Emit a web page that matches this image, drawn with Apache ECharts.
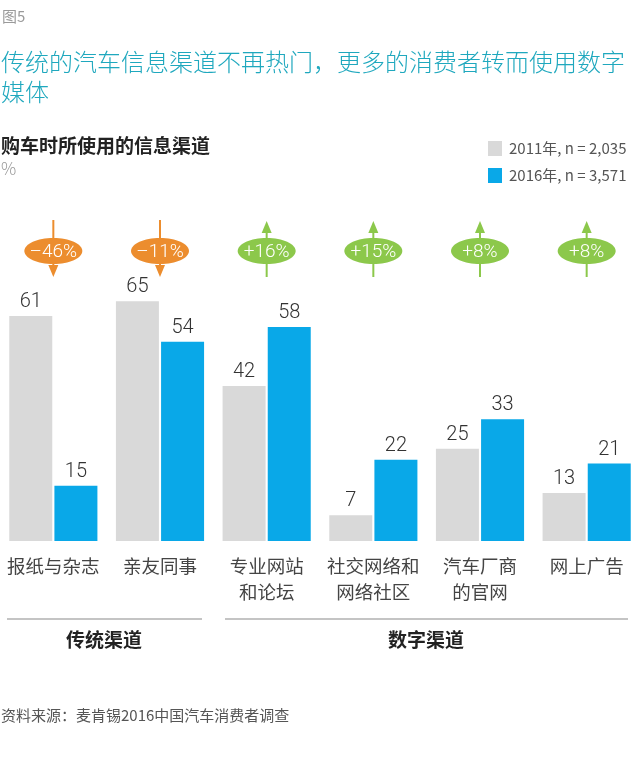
<!DOCTYPE html>
<html><head><meta charset="utf-8">
<script src="https://cdn.jsdelivr.net/npm/echarts@6/dist/echarts.min.js"></script>
<style>html,body{margin:0;padding:0;background:#fff}#c{width:640px;height:763px}</style>
</head><body><div id="c"></div>
<script>
var categories = ['报纸与杂志', '亲友同事', '专业网站\n和论坛', '社交网络和\n网络社区', '汽车厂商\n的官网', '网上广告'];
var seriesNames = ['2011年, n = 2,035', '2016年, n = 3,571'];
var values2011 = [61, 65, 42, 7, 25, 13];
var values2016 = [15, 54, 58, 22, 33, 21];
var changes = [-46, -11, 16, 15, 8, 8];
var groupNames = ['传统渠道', '数字渠道'];

var FONT = '"Noto Sans CJK SC", "Noto Sans", sans-serif';
var NUMFONT = 'Roboto, "Noto Sans CJK SC", sans-serif';
var GRAY = '#D9D9D9', BLUE = '#09A8E8', ORANGE = '#EC8D2E', GREEN = '#8CC84B';

var chart = echarts.init(document.getElementById('c'));

function badge(params, api) {
  var idx = api.value(0);
  var v = api.value(1);
  var x = api.coord([idx, 0])[0];
  var cy = 251;
  var color = v < 0 ? ORANGE : GREEN;
  var txt = (v < 0 ? '–' + Math.abs(v) : '+' + v) + '%';
  var children = [];
  if (v < 0) {
    children.push({type: 'line', shape: {x1: x, y1: 220, x2: x, y2: cy}, style: {stroke: color, lineWidth: 2}});
    children.push({type: 'line', shape: {x1: x, y1: cy, x2: x, y2: 268}, style: {stroke: color, lineWidth: 2}});
    children.push({type: 'polygon', shape: {points: [[x - 5, 265], [x + 5, 265], [x, 277]]}, style: {fill: color}});
  } else {
    children.push({type: 'polygon', shape: {points: [[x - 5, 233], [x + 5, 233], [x, 221]]}, style: {fill: color}});
    children.push({type: 'line', shape: {x1: x, y1: 231, x2: x, y2: 277}, style: {stroke: color, lineWidth: 2}});
  }
  children.push({type: 'ellipse', shape: {cx: x, cy: cy, rx: 29, ry: 13}, style: {fill: color}});
  children.push({type: 'text', style: {text: txt, x: x, y: cy + 1, align: 'center', verticalAlign: 'middle',
    fill: '#fff', font: '300 19px ' + NUMFONT}});
  return {type: 'group', children: children};
}

var option = {
  animation: false,
  backgroundColor: '#fff',
  grid: {left: 0, right: 0, top: 209, bottom: 222},
  legend: {
    orient: 'vertical', left: 483, top: 136, itemGap: 12, itemWidth: 14, itemHeight: 15,
    icon: 'rect', textStyle: {fontSize: 15, color: '#555', fontFamily: FONT, padding: [0, 0, 0, 2]},
    data: seriesNames
  },
  xAxis: {
    type: 'category', data: categories,
    axisLine: {show: false}, axisTick: {show: false},
    axisLabel: {margin: 12, fontSize: 18.5, lineHeight: 26, color: '#444', fontFamily: FONT, interval: 0}
  },
  yAxis: {type: 'value', min: 0, max: 90, show: false, splitLine: {show: false}},
  series: [
    {name: seriesNames[0], type: 'bar', data: values2011, barWidth: 43, barGap: '5%',
     itemStyle: {color: GRAY},
     label: {show: true, position: 'top', distance: 4, fontSize: 20, color: '#333', fontFamily: NUMFONT, fontWeight: 300}},
    {name: seriesNames[1], type: 'bar', data: values2016, barWidth: 43,
     itemStyle: {color: BLUE},
     label: {show: true, position: 'top', distance: 4, fontSize: 20, color: '#333', fontFamily: NUMFONT, fontWeight: 300}},
    {type: 'custom', data: changes.map(function (c, i) { return [i, c]; }), renderItem: badge,
     encode: {x: 0, y: 1}, silent: true, clip: false, z: 5}
  ],
  graphic: [
    {type: 'text', left: 2, top: 9, style: {text: '图5', font: '15px ' + FONT, fill: '#9a9a9a'}},
    {type: 'text', left: 1, top: 47, style: {text: '传统的汽车信息渠道不再热门，更多的消费者转而使用数字\n媒体',
      font: '300 24px ' + FONT, fill: '#1FA8BE', lineHeight: 30}},
    {type: 'text', left: 1, top: 136, style: {text: '购车时所使用的信息渠道', font: 'bold 19px ' + FONT, fill: '#222'}},
    {type: 'text', left: 1, top: 160, style: {text: '%', font: '300 17px ' + FONT, fill: '#9a9a9a'}},
    {type: 'line', shape: {x1: 7, y1: 619, x2: 202, y2: 619}, style: {stroke: '#C4C4C4', lineWidth: 2}},
    {type: 'line', shape: {x1: 225, y1: 619, x2: 628, y2: 619}, style: {stroke: '#C4C4C4', lineWidth: 2}},
    {type: 'text', x: 104, y: 640, style: {text: groupNames[0], font: 'bold 19px ' + FONT, fill: '#222', align: 'center', verticalAlign: 'middle'}},
    {type: 'text', x: 426, y: 640, style: {text: groupNames[1], font: 'bold 19px ' + FONT, fill: '#222', align: 'center', verticalAlign: 'middle'}},
    {type: 'text', left: 1, top: 708, style: {text: '资料来源：麦肯锡2016中国汽车消费者调查', font: '15px ' + FONT, fill: '#555'}}
  ]
};
chart.setOption(option);
</script>
</body></html>
